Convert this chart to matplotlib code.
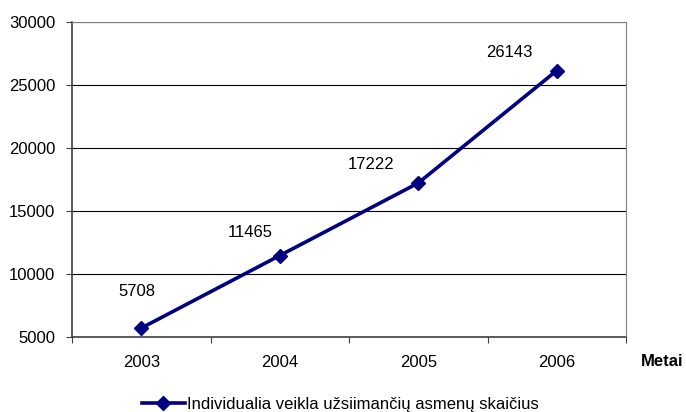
import matplotlib.pyplot as plt
from matplotlib.lines import Line2D

plt.rcParams['font.family'] = ['Liberation Sans', 'DejaVu Sans']

metai = ['2003', '2004', '2005', '2006']
asmenys = [5708, 11465, 17222, 26143]
yticks = [5000, 10000, 15000, 20000, 25000, 30000]

# label offsets (points) as placed in the original chart
label_off = [(-3, 26), (-21.5, 16.5), (-34, 13.5), (-34, 13)]

fig = plt.figure(figsize=(6.86, 4.12), dpi=100)
ax = fig.add_axes([72 / 686, 1 - 337 / 412, (626 - 72) / 686, (337 - 22) / 412])

x = range(len(metai))
ax.plot(x, asmenys, color='#000080', lw=2.6, marker='D', ms=7.5, zorder=3, clip_on=False)

for xi, v, off in zip(x, asmenys, label_off):
    ax.annotate(str(v), (xi, v), xytext=off, textcoords='offset points',
                ha='center', va='center', fontsize=12)

ax.set_xlim(-0.5, 3.5)
ax.set_ylim(5000, 30000)
ax.set_yticks(yticks)
ax.set_xticks([-0.5, 0.5, 1.5, 2.5, 3.5])
ax.set_xticklabels([])
ax.set_xticks(list(x), metai, minor=True)
ax.tick_params(axis='x', which='minor', length=0, pad=13, labelsize=12)
ax.tick_params(axis='x', which='major', length=4, color='#404040')
ax.tick_params(axis='y', length=4, color='#404040', labelsize=12, pad=8)
ax.grid(axis='y', color='black', lw=0.8)
ax.set_axisbelow(True)

for s in ['top', 'right']:
    ax.spines[s].set_color('#808080')
for s in ['left', 'bottom']:
    ax.spines[s].set_color('#404040')
    ax.spines[s].set_linewidth(1.2)

fig.text(662 / 686, 1 - 362 / 412, 'Metai', ha='center', va='center',
         fontsize=12, fontweight='bold')

handle = Line2D([], [], color='#000080', lw=2.6, marker='D', ms=7.5)
fig.legend([handle], ['Individualia veikla užsiimančių asmenų skaičius'],
           loc='center', bbox_to_anchor=(340 / 686, 1 - 404 / 412),
           frameon=False, fontsize=12, handlelength=2.6, handletextpad=0.1)

fig.savefig('out.png', dpi=100)
